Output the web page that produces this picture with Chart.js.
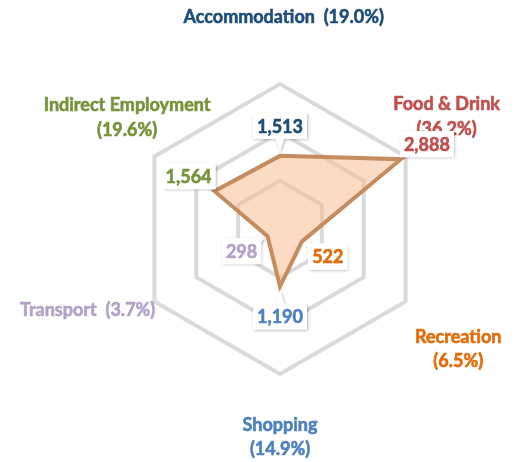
<!DOCTYPE html>
<html>
<head>
<meta charset="utf-8">
<script src="https://cdn.jsdelivr.net/npm/chart.js@4.4.1/dist/chart.umd.min.js"></script>
<style>
  html, body { margin: 0; padding: 0; background: #fff; }
  #c { display: block; }
</style>
</head>
<body>
<canvas id="c" width="517" height="462"></canvas>
<script>
// spend by category
const categories = ['Accommodation', 'Food & Drink', 'Recreation', 'Shopping', 'Transport', 'Indirect Employment'];
const shares     = ['19.0%', '36.2%', '6.5%', '14.9%', '3.7%', '19.6%'];
const values     = [1513, 2888, 522, 1190, 298, 1564];
const ringTicks  = [0, 1000, 2000, 3000];

const colors = ['#1F4E79', '#C0504D', '#E46C0A', '#4F81BD', '#B3A2C7', '#77933C'];
// category label blocks: [distance from centre, turn off the spoke in degrees, split into two lines]
const labelPos = [[212, 1, false], [201, -4, true], [215, 4, true], [208, 0, true], [209, 7, false], [189, 6, true]];

const FONT = 'bold 18px Lato, "Open Sans", sans-serif';
const fmt = v => v.toLocaleString('en-US');

// slightly heavier text than plain bold
const text = (ctx, t, x, y) => { ctx.strokeText(t, x, y); ctx.fillText(t, x, y); };

const labelsPlugin = {
  id: 'labels',
  afterDatasetsDraw(chart) {
    const ctx = chart.ctx, sc = chart.scales.r;
    ctx.save();
    ctx.font = FONT;
    ctx.textAlign = 'center';
    ctx.textBaseline = 'middle';
    ctx.lineWidth = 0.6;
    ctx.lineJoin = 'round';

    // category names + share
    categories.forEach((c, i) => {
      const [d, turn, split] = labelPos[i];
      const p = sc.getPointPosition(i, d, turn * Math.PI / 180);
      const lines = split ? [c, '(' + shares[i] + ')'] : [c + '  (' + shares[i] + ')'];
      ctx.fillStyle = ctx.strokeStyle = colors[i];
      lines.forEach((t, k) => text(ctx, t, p.x, p.y + (k - (lines.length - 1) / 2) * 24.5));
    });

    // value callouts
    values.forEach((v, i) => {
      const r = sc.getDistanceFromCenterForValue(v);
      const c = sc.getPointPosition(i, r + 30);
      const tip = sc.getPointPosition(i, r + 4);
      const t = fmt(v), w = ctx.measureText(t).width + 8, h = 26;
      const x0 = c.x - w / 2, y0 = c.y - h / 2;

      // where the line to the point leaves the box
      const dx = tip.x - c.x, dy = tip.y - c.y;
      const s = Math.min(dx ? (w / 2) / Math.abs(dx) : Infinity, dy ? (h / 2) / Math.abs(dy) : Infinity);
      const ex = c.x + dx * s, ey = c.y + dy * s;
      const horiz = Math.abs(dy * s) >= h / 2 - 0.01;
      const inX = horiz ? 0 : -Math.sign(dx) * 2, inY = horiz ? -Math.sign(dy) * 2 : 0;
      const b1 = horiz ? [ex - 5, ey + inY] : [ex + inX, ey - 5];
      const b2 = horiz ? [ex + 5, ey + inY] : [ex + inX, ey + 5];

      const shape = () => {
        ctx.fillRect(x0, y0, w, h);
        ctx.beginPath();
        ctx.moveTo(b1[0], b1[1]); ctx.lineTo(tip.x, tip.y); ctx.lineTo(b2[0], b2[1]);
        ctx.closePath(); ctx.fill();
      };
      ctx.fillStyle = '#fff';
      ctx.shadowColor = 'rgba(0,0,0,0.3)'; ctx.shadowBlur = 3; ctx.shadowOffsetX = 1; ctx.shadowOffsetY = 1;
      shape();
      ctx.shadowColor = 'transparent';
      shape();
      ctx.fillStyle = ctx.strokeStyle = colors[i];
      text(ctx, t, c.x, c.y + 1);
    });
    ctx.restore();
  }
};

new Chart(document.getElementById('c'), {
  type: 'radar',
  data: {
    labels: categories,
    datasets: [{
      data: values,
      backgroundColor: 'rgba(248,190,145,0.55)',
      borderColor: '#C58C5F',
      borderWidth: 4,
      borderJoinStyle: 'miter',
      pointRadius: 0,
      pointHoverRadius: 0
    }]
  },
  options: {
    responsive: false,
    animation: false,
    layout: { padding: { left: 135, right: 92, top: 84, bottom: 88 } },
    plugins: { legend: { display: false }, tooltip: { enabled: false } },
    scales: {
      r: {
        min: ringTicks[0],
        max: ringTicks[ringTicks.length - 1],
        ticks: { display: false, stepSize: ringTicks[1] - ringTicks[0] },
        grid: { color: '#DADADA', lineWidth: 4 },
        angleLines: { display: false },
        pointLabels: { display: false }
      }
    }
  },
  plugins: [labelsPlugin]
});
</script>
</body>
</html>
